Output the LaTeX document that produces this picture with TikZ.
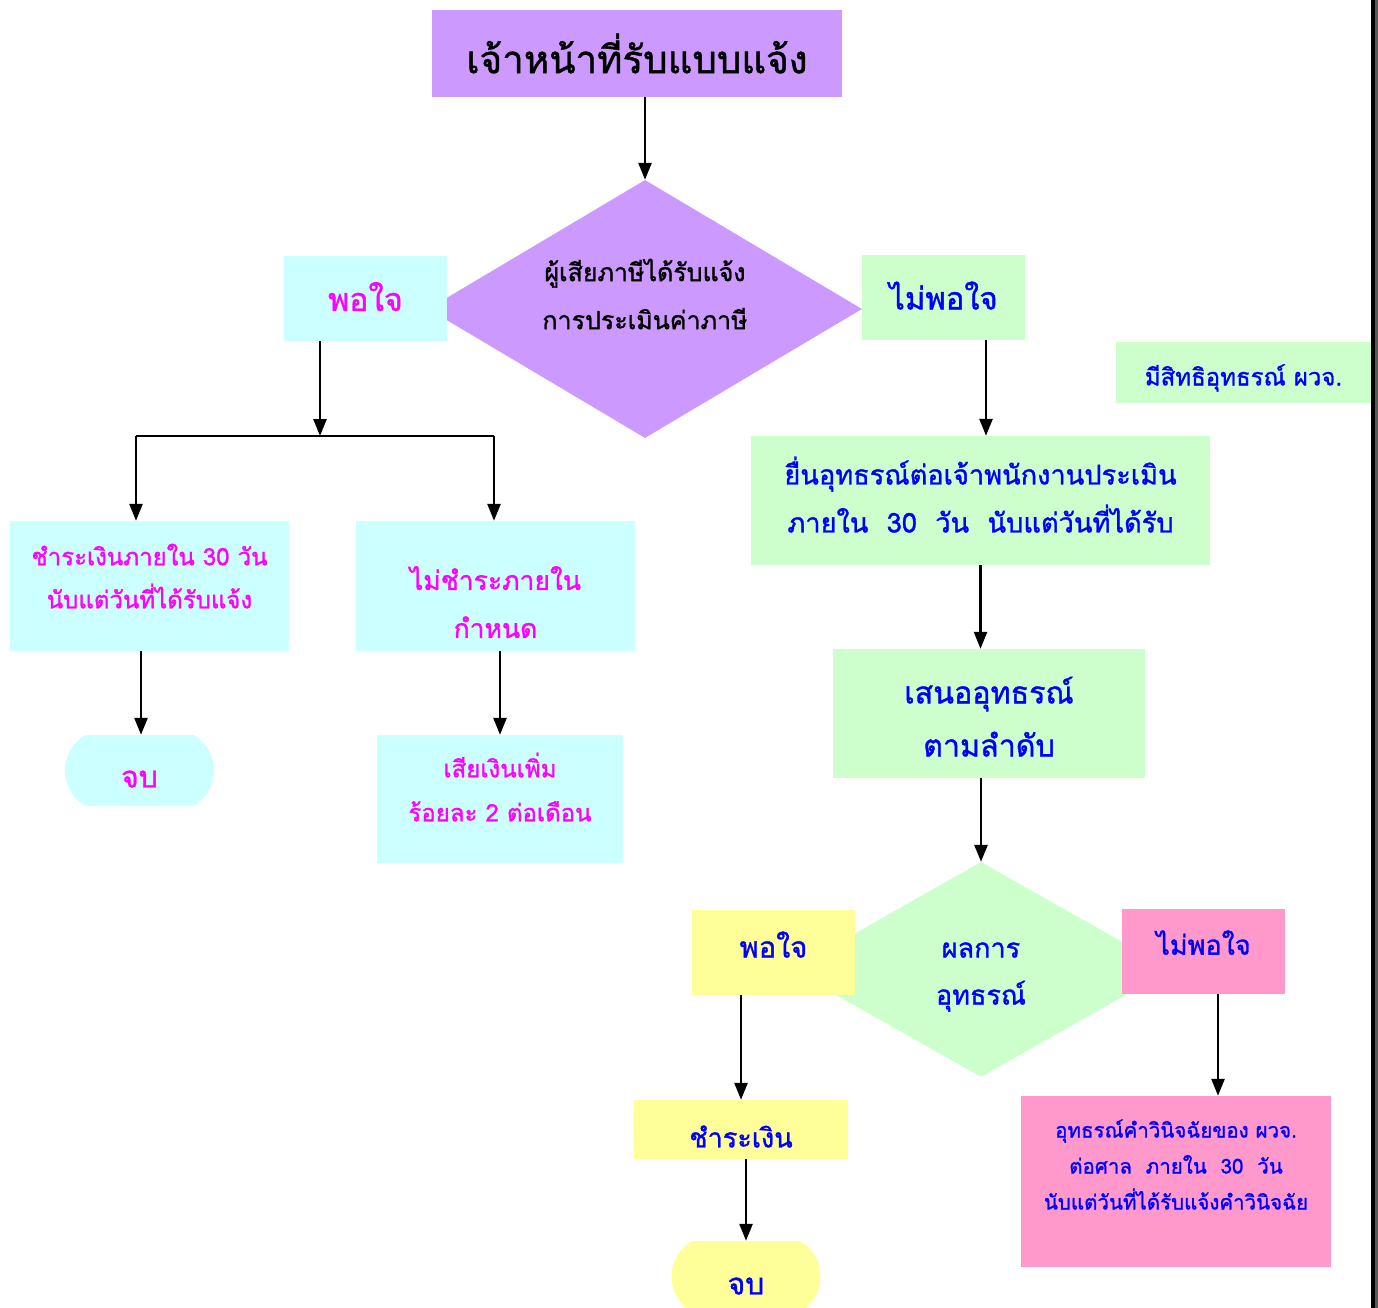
\documentclass[tikz,border=0pt]{standalone}
\usepackage{fontspec}
\usepackage{tikz}
\usetikzlibrary{shapes.geometric,shapes.misc,arrows.meta}
\newfontfamily\thaifont[Script=Thai,FakeBold=1.2]{Loma}
\definecolor{purplefill}{HTML}{CC99FF}
\definecolor{cyanfill}{HTML}{CCFFFF}
\definecolor{greenfill}{HTML}{CCFFCC}
\definecolor{yellowfill}{HTML}{FFFF99}
\definecolor{pinkfill}{HTML}{FF99CC}
\definecolor{magentatext}{HTML}{FF00FF}
\definecolor{bluetext}{HTML}{0000FF}

\begin{document}
\begin{tikzpicture}[x=1pt,y=-1pt]
		\clip (0,0) rectangle (1378,1308); %page
		\fill[white] (0,0) rectangle (1378,1308);
		\tikzset{box/.style={inner sep=0pt,align=center,font=\thaifont},
			sizedbox/.style 2 args={box,minimum width=#1,minimum height=#2},
			arr/.style={-{Triangle[width=13pt,length=17pt]},line width=2.6pt},
			endbox/.style={box,rounded rectangle,rounded rectangle arc length=120,minimum width=149,minimum height=71}}
		\node[diamond,fill=purplefill,minimum width=434,minimum height=258,aspect=1.7,inner sep=0pt] (dia1) at (645,309) {}; %first decision
		\node[diamond,fill=greenfill,minimum width=380,minimum height=215,aspect=1.7,inner sep=0pt] (dia2) at (981,969.5) {}; %second decision
		\node[box,font=\thaifont\fontsize{25}{48}\selectfont] (dia1txt) at (645,294) {ผู้เสียภาษีได้รับแจ้ง\\การประเมินค่าภาษี};
		\node[box,text=bluetext,font=\thaifont\fontsize{27}{47}\selectfont] (dia2txt) at (981,977) {ผลการ\\อุทธรณ์};
		\node[sizedbox={410}{87},fill=purplefill,font=\thaifont\fontsize{38.5}{44}\selectfont] (title) at (637,53.5) {เจ้าหน้าที่รับแบบแจ้ง};
		% left branch
		\node[sizedbox={163}{85},fill=cyanfill,text=magentatext,font=\thaifont\fontsize{32}{36}\selectfont] (ok1) at (365.5,298.5) {พอใจ\\[-32pt]};
		\node[sizedbox={279}{130},fill=cyanfill,text=magentatext,font=\thaifont\fontsize{24}{43}\selectfont] (pay1) at (149.5,586) {ชำระเงินภายใน 30 วัน\\นับแต่วันที่ได้รับแจ้ง\\[-23pt]};
		\node[sizedbox={279}{130},fill=cyanfill,text=magentatext,font=\thaifont\fontsize{26.5}{48}\selectfont] (late1) at (495.5,586) {~\\[8pt]ไม่ชำระภายใน\\กำหนด};
		\node[endbox,fill=cyanfill,text=magentatext,font=\thaifont\fontsize{30}{34}\selectfont] (end1) at (139.5,770.5) {~\\[0pt]จบ};
		\node[sizedbox={246}{128},fill=cyanfill,text=magentatext,font=\thaifont\fontsize{24}{44}\selectfont] (fine1) at (500,799) {เสียเงินเพิ่ม\\ร้อยละ 2 ต่อเดือน\\[-20pt]};
		% right branch
		\node[sizedbox={163}{85},fill=greenfill,text=bluetext,font=\thaifont\fontsize{31}{36}\selectfont] (nok1) at (943.5,297.5) {ไม่พอใจ\\[-32pt]};
		\node[sizedbox={255}{61},fill=greenfill,text=bluetext,font=\thaifont\fontsize{24}{28}\selectfont] (right1) at (1243.5,372.5) {~\\[4pt]มีสิทธิอุทธรณ์ ผวจ.};
		\node[sizedbox={459}{129},fill=greenfill,text=bluetext,font=\thaifont\fontsize{27.2}{48}\selectfont] (appeal1) at (980.5,500.5) {ยื่นอุทธรณ์ต่อเจ้าพนักงานประเมิน\\ภายใน~~30~~วัน~~นับแต่วันที่ได้รับ\\[-36pt]};
		\node[sizedbox={312}{129},fill=greenfill,text=bluetext,font=\thaifont\fontsize{30.4}{53}\selectfont] (propose) at (989,713.5) {~\\[-20pt]เสนออุทธรณ์\\ตามลำดับ};
		\node[sizedbox={163}{85},fill=yellowfill,text=bluetext,font=\thaifont\fontsize{29}{34}\selectfont] (ok2) at (773.5,952.5) {พอใจ\\[-18pt]};
		\node[sizedbox={163}{85},fill=pinkfill,text=bluetext,font=\thaifont\fontsize{27}{34}\selectfont] (nok2) at (1203.5,951.5) {ไม่พอใจ\\[-16pt]};
		\node[sizedbox={214}{59},fill=yellowfill,text=bluetext,font=\thaifont\fontsize{27}{31}\selectfont] (pay2) at (741,1129.5) {~\\[5pt]ชำระเงิน};
		\node[endbox,fill=yellowfill,text=bluetext,font=\thaifont\fontsize{30}{34}\selectfont] (end2) at (746,1276.5) {~\\[2pt]จบ};
		\node[sizedbox={310}{171},fill=pinkfill,text=bluetext,font=\thaifont\fontsize{20.5}{36}\selectfont] (court) at (1176,1181.5) {อุทธรณ์คำวินิจฉัยของ ผวจ.\\ต่อศาล~~ภายใน~~30~~วัน\\นับแต่วันที่ได้รับแจ้งคำวินิจฉัย\\[-2pt]~};
		% connectors
		\coordinate (split1) at (320,436);
		\coordinate (splitL) at (136,436);
		\coordinate (splitR) at (494,436);
		\draw[arr] (title.south -| dia1.north) -- (dia1.north);
		\draw[arr] (ok1.south -| split1) -- (split1);
		\draw[line width=2.6pt] (splitL) -- (splitR); %split to both cases
		\draw[arr] (splitL) -- (splitL |- pay1.north);
		\draw[arr] (splitR) -- (splitR |- late1.north);
		\draw[arr] ([xshift=-8.5pt]pay1.south) -- ([xshift=-8.5pt]pay1.south |- end1.north);
		\draw[arr] (late1.south -| fine1.north) -- (fine1.north);
		\draw[arr] ([xshift=42.5pt]nok1.south) -- ([xshift=42.5pt]nok1.south |- appeal1.north);
		\draw[arr] (appeal1.south) -- (appeal1.south |- propose.north);
		\draw[arr] (propose.south -| dia2.north) -- (dia2.north);
		\draw[arr] (pay2.north |- ok2.south) -- (pay2.north);
		\draw[arr] (end2.north |- pay2.south) -- (end2.north);
		\draw[arr] ([xshift=14.5pt]nok2.south) -- ([xshift=14.5pt]nok2.south |- court.north);
		\fill[black] (1371,0) rectangle (1375,1308); %page edge
		\fill[black!65] (1375,0) rectangle (1378,1308);
	\end{tikzpicture}
\end{document}
